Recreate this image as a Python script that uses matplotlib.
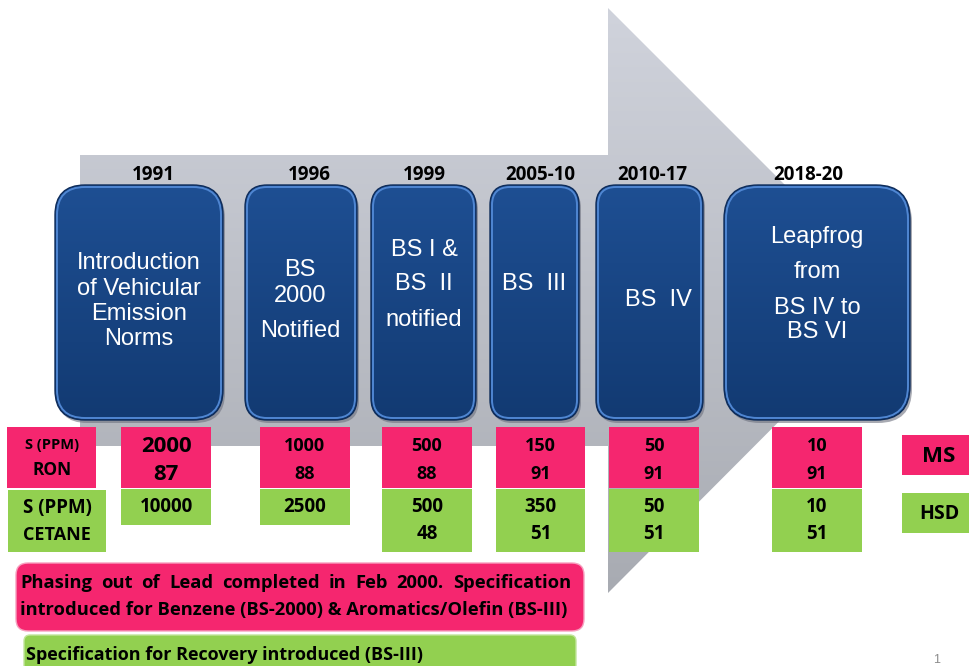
import numpy as np
import matplotlib
matplotlib.use("Agg")
import matplotlib.pyplot as plt
from matplotlib.patches import FancyBboxPatch, Polygon, Rectangle

# ---------------- data ----------------
years = ["1991", "1996", "1999", "2005-10", "2010-17", "2018-20"]
milestones = [
    ["Introduction", "of Vehicular", "Emission", "Norms"],
    ["BS", "2000", "Notified"],
    ["BS I &", "BS  II", "notified"],
    ["BS  III"],
    ["BS  IV"],
    ["Leapfrog", "from", "BS IV to", "BS VI"],
]
ms_sulphur = ["2000", "1000", "500", "150", "50", "10"]
ms_ron = ["87", "88", "88", "91", "91", "91"]
hsd_sulphur = ["10000", "2500", "500", "350", "50", "10"]
hsd_cetane = ["", "", "48", "51", "51", "51"]
ms_label = ["S (PPM)", "RON"]
hsd_label = ["S (PPM)", "CETANE"]
note_ms = ["Phasing out of Lead completed in Feb 2000. Specification",
           "introduced for Benzene (BS-2000) & Aromatics/Olefin (BS-III)"]
note_hsd = "Specification for Recovery introduced (BS-III)"

# ---------------- layout ----------------
W, H = 970, 666
fig = plt.figure(figsize=(9.7, 6.66), dpi=100)
ax = fig.add_axes([0, 0, 1, 1])
ax.set_xlim(0, W)
ax.set_ylim(H, 0)
ax.axis("off")

PINK = "#F5266F"
GREEN = "#92D050"
BFONT = ["Open Sans", "DejaVu Sans"]
AFONT = ["Liberation Sans", "DejaVu Sans"]

def gradient_fill(patch, c_top, c_bot, x0, x1, y0, y1, z):
    c_top = np.array(matplotlib.colors.to_rgb(c_top))
    c_bot = np.array(matplotlib.colors.to_rgb(c_bot))
    t = np.linspace(0, 1, 256)[:, None]
    img = (c_top[None, :] * (1 - t) + c_bot[None, :] * t)[:, None, :]
    im = ax.imshow(img, extent=(x0, x1, y1, y0), origin="upper",
                   aspect="auto", zorder=z, interpolation="bilinear")
    im.set_clip_path(patch)

# grey arrow
arrow_pts = [(80, 155), (608, 155), (608, 8), (900, 300),
             (608, 593), (608, 446), (80, 446)]
arrow = Polygon(arrow_pts, closed=True, facecolor="none", edgecolor="none", zorder=1)
ax.add_patch(arrow)
gradient_fill(arrow, "#D0D3DC", "#A8ABB2", 80, 900, 8, 593, 1)

# blue boxes
boxes = [(55, 223, 30), (245, 357, 22), (371, 476, 22),
         (490, 579, 20), (596, 703, 20), (724, 910, 34)]
box_top, box_bot = 185, 420
for (x0, x1, r) in boxes:
    sh = FancyBboxPatch((x0 + 2, box_top + 3), x1 - x0, box_bot - box_top,
                        boxstyle=f"round,pad=0,rounding_size={r}",
                        facecolor="#6E7280", edgecolor="none", alpha=0.6, zorder=2)
    ax.add_patch(sh)
    p = FancyBboxPatch((x0, box_top), x1 - x0, box_bot - box_top,
                       boxstyle=f"round,pad=0,rounding_size={r}",
                       facecolor="none", edgecolor="none", zorder=3)
    ax.add_patch(p)
    gradient_fill(p, "#1E4F93", "#123A72", x0, x1, box_top, box_bot, 3)
    e = FancyBboxPatch((x0 + 2, box_top + 2), x1 - x0 - 4, box_bot - box_top - 4,
                       boxstyle=f"round,pad=0,rounding_size={r - 2}",
                       facecolor="none", edgecolor="#4F86D2", lw=1.4, zorder=4)
    ax.add_patch(e)
    o = FancyBboxPatch((x0, box_top), x1 - x0, box_bot - box_top,
                       boxstyle=f"round,pad=0,rounding_size={r}",
                       facecolor="none", edgecolor="#0E2C5A", lw=1.0, zorder=4)
    ax.add_patch(o)

# years
year_x = [153, 309, 424, 540, 652, 808]
for x, yr in zip(year_x, years):
    ax.text(x, 175, yr, ha="center", va="center", fontsize=13.5,
            fontweight="bold", family=BFONT, color="black", zorder=5)

# milestone text
text_pos = [
    (139, [263, 289, 314, 339]),
    (300, [270, 296, 331]),
    (424, [250, 284, 320]),
    (534, [284]),
    (658, [300]),
    (817, [237, 272, 308, 332]),
]
for (x, ys), lines in zip(text_pos, milestones):
    for y, ln in zip(ys, lines):
        ax.text(x, y, ln, ha="center", va="center", fontsize=17,
                family=AFONT, color="white", zorder=5)

# table
col_x = [(121, 211), (260, 350), (382, 472), (496, 585), (609, 699), (772, 862)]
ms_top, ms_bot = 427, 488
hsd_top = 489
for i, (x0, x1) in enumerate(col_x):
    cx = (x0 + x1) / 2
    ax.add_patch(Rectangle((x0, ms_top), x1 - x0, ms_bot - ms_top,
                           facecolor=PINK, edgecolor="none", zorder=5))
    big = 16 if i == 0 else 13
    ax.text(cx, 446, ms_sulphur[i], ha="center", va="center", fontsize=big,
            fontweight="bold", family=BFONT, zorder=6)
    ax.text(cx, 474, ms_ron[i], ha="center", va="center", fontsize=big,
            fontweight="bold", family=BFONT, zorder=6)
    hb = 552 if hsd_cetane[i] else 525
    ax.add_patch(Rectangle((x0, hsd_top), x1 - x0, hb - hsd_top,
                           facecolor=GREEN, edgecolor="none", zorder=5))
    ax.text(cx, 507, hsd_sulphur[i], ha="center", va="center", fontsize=13.5,
            fontweight="bold", family=BFONT, zorder=6)
    if hsd_cetane[i]:
        ax.text(cx, 534, hsd_cetane[i], ha="center", va="center", fontsize=13.5,
                fontweight="bold", family=BFONT, zorder=6)

# row labels
ax.add_patch(Rectangle((7, 427), 89, 61, facecolor=PINK, edgecolor="none", zorder=5))
ax.text(52, 445, ms_label[0], ha="center", va="center", fontsize=10.5,
        fontweight="bold", family=BFONT, zorder=6)
ax.text(52, 470, ms_label[1], ha="center", va="center", fontsize=12.5,
        fontweight="bold", family=BFONT, zorder=6)
ax.add_patch(Rectangle((8, 490), 98, 62, facecolor=GREEN, edgecolor="none", zorder=5))
ax.text(57, 508, hsd_label[0], ha="center", va="center", fontsize=13.5,
        fontweight="bold", family=BFONT, zorder=6)
ax.text(57, 535, hsd_label[1], ha="center", va="center", fontsize=13,
        fontweight="bold", family=BFONT, zorder=6)

# legend boxes
ax.add_patch(Rectangle((902, 435), 70, 40, facecolor=PINK, edgecolor="none", zorder=5))
ax.text(939, 456, "MS", ha="center", va="center", fontsize=16,
        fontweight="bold", family=BFONT, zorder=6)
ax.add_patch(Rectangle((902, 493), 70, 40, facecolor=GREEN, edgecolor="none", zorder=5))
ax.text(939, 514, "HSD", ha="center", va="center", fontsize=14,
        fontweight="bold", family=BFONT, zorder=6)

# notes
ax.add_patch(FancyBboxPatch((16, 563), 568, 68,
                            boxstyle="round,pad=0,rounding_size=12",
                            facecolor=PINK, edgecolor="#F7A0BF", lw=1, zorder=5))
ax.add_patch(FancyBboxPatch((24, 635), 552, 40,
                            boxstyle="round,pad=0,rounding_size=6",
                            facecolor=GREEN, edgecolor="#C2E59C", lw=1, zorder=5))

fig.canvas.draw()
renderer = fig.canvas.get_renderer()

def justify(line, x0, x1, y, fs):
    words = line.split(" ")
    arts = [ax.text(0, y, w, ha="left", va="center", fontsize=fs,
                    fontweight="bold", family=BFONT, zorder=6) for w in words]
    fig.canvas.draw()
    inv = ax.transData.inverted()
    widths = []
    for a in arts:
        bb = a.get_window_extent(renderer)
        p0 = inv.transform((bb.x0, bb.y0))
        p1 = inv.transform((bb.x1, bb.y0))
        widths.append(p1[0] - p0[0])
    gap = (x1 - x0 - sum(widths)) / max(len(words) - 1, 1)
    x = x0
    for a, w in zip(arts, widths):
        a.set_x(x)
        x += w + gap

justify(note_ms[0], 20, 571, 583, 13.2)
ax.text(20, 610, note_ms[1], ha="left", va="center", fontsize=13.2,
        fontweight="bold", family=BFONT, zorder=6)
ax.text(26, 655, note_hsd, ha="left", va="center", fontsize=13,
        fontweight="bold", family=BFONT, zorder=6)

ax.text(937, 660, "1", ha="center", va="center", fontsize=9, color="#8C8C8C",
        family=AFONT, zorder=6)

fig.savefig("out.png", dpi=100)
